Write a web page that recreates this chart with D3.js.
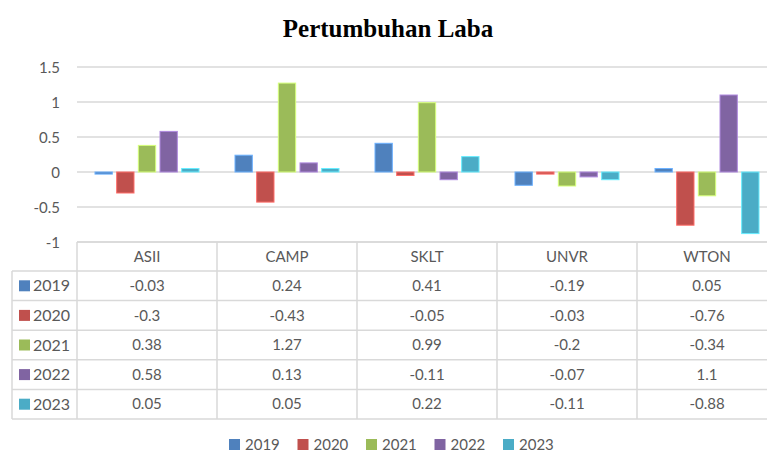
<!DOCTYPE html>
<html><head><meta charset="utf-8">
<script src="https://cdn.jsdelivr.net/npm/d3@7"></script>
<style>body{margin:0;background:#fff;}svg{display:block;}</style>
</head><body>
<svg id="chart" width="767" height="452"></svg>
<script>
const title = "Pertumbuhan Laba";
const categories = ["ASII", "CAMP", "SKLT", "UNVR", "WTON"];
const years = ["2019", "2020", "2021", "2022", "2023"];
const v2019 = [-0.03, 0.24, 0.41, -0.19, 0.05];
const v2020 = [-0.3, -0.43, -0.05, -0.03, -0.76];
const v2021 = [0.38, 1.27, 0.99, -0.2, -0.34];
const v2022 = [0.58, 0.13, -0.11, -0.07, 1.1];
const v2023 = [0.05, 0.05, 0.22, -0.11, -0.88];
const yTicks = [-1, -0.5, 0, 0.5, 1, 1.5];
const colors = ["#4F81BD", "#C0504D", "#9BBB59", "#8064A2", "#4BACC6"];

const seriesValues = [v2019, v2020, v2021, v2022, v2023];
const series = years.map((y, i) => ({year: y, values: seriesValues[i], color: colors[i]}));

const svg = d3.select("#chart");
const textColor = "#595959";
const gridColor = "#d9d9d9";
const font = "Lato, 'Open Sans', sans-serif";

const x0 = d3.scaleBand().domain(categories).range([77, 777]).padding(0);
const x1 = d3.scaleBand().domain(years).range([18, 122]).paddingInner(0.2).paddingOuter(0);
const y = d3.scaleLinear().domain([-1, 1.5]).range([242, 67]);

// title
svg.append("text").attr("x", 388).attr("y", 37).attr("text-anchor", "middle")
  .attr("font-family", "'Liberation Serif', 'Times New Roman', serif")
  .attr("font-weight", "bold").attr("font-size", 25).attr("fill", "#000").text(title);

// gridlines
svg.append("g").selectAll("line").data(yTicks).join("line")
  .attr("x1", 77).attr("x2", 767)
  .attr("y1", d => y(d)).attr("y2", d => y(d))
  .attr("stroke", gridColor).attr("stroke-width", 1.5);

// y axis labels
const yAxis = d3.axisLeft(y).tickValues(yTicks).tickSize(0).tickPadding(0).tickFormat(d => String(d));
const ga = svg.append("g").attr("transform", "translate(60,0)").call(yAxis);
ga.select(".domain").remove();
ga.selectAll("text").attr("font-family", font).attr("font-size", 15).attr("fill", textColor).attr("dy", "0.35em");

// bars
const groups = svg.append("g").selectAll("g").data(series).join("g");
groups.selectAll("rect").data(s => s.values.map((v, i) => ({cat: categories[i], v, year: s.year, color: s.color})))
  .join("rect")
  .attr("x", d => x0(d.cat) + x1(d.year))
  .attr("width", x1.bandwidth())
  .attr("y", d => Math.min(y(d.v), y(0)))
  .attr("height", d => Math.abs(y(d.v) - y(0)))
  .attr("fill", d => d.color)
  .attr("stroke", d => d3.color(d.color).brighter(0.9))
  .attr("stroke-width", 1);

// table
const rowTop = 242, headerH = 29, rowH = 29.6;
const rowY = i => rowTop + headerH + i * rowH;
const tbl = svg.append("g");
const lineAttr = sel => sel.attr("stroke", gridColor).attr("stroke-width", 1.5).attr("fill", "none");
tbl.append("line").attr("x1", 77).attr("x2", 767).attr("y1", rowTop).attr("y2", rowTop).call(lineAttr);
d3.range(years.length + 1).forEach(i => {
  tbl.append("line").attr("x1", 12).attr("x2", 767).attr("y1", rowY(i)).attr("y2", rowY(i)).call(lineAttr);
});
tbl.append("line").attr("x1", 12).attr("x2", 12).attr("y1", rowY(0)).attr("y2", rowY(years.length)).call(lineAttr);
categories.forEach(c => {
  tbl.append("line").attr("x1", x0(c)).attr("x2", x0(c)).attr("y1", rowTop).attr("y2", rowY(years.length)).call(lineAttr);
});
tbl.selectAll("text.hdr").data(categories).join("text").attr("class", "hdr")
  .attr("x", d => x0(d) + x0.bandwidth() / 2).attr("y", rowTop + headerH / 2).attr("dy", "0.35em")
  .attr("text-anchor", "middle").attr("font-family", font).attr("font-size", 15).attr("fill", textColor).text(d => d);
series.forEach((s, i) => {
  const cy = rowY(i) + rowH / 2;
  tbl.append("rect").attr("x", 19).attr("y", cy - 5.5).attr("width", 11).attr("height", 11).attr("fill", s.color);
  tbl.append("text").attr("x", 33).attr("y", cy).attr("dy", "0.35em").attr("font-family", font)
    .attr("font-size", 16).attr("fill", textColor).text(s.year);
  s.values.forEach((v, j) => {
    tbl.append("text").attr("x", x0(categories[j]) + x0.bandwidth() / 2).attr("y", cy).attr("dy", "0.35em")
      .attr("text-anchor", "middle").attr("font-family", font).attr("font-size", 15).attr("fill", textColor).text(String(v));
  });
});

// bottom legend
const leg = svg.append("g").selectAll("g").data(series).join("g")
  .attr("transform", (d, i) => `translate(${229 + i * 68.5},0)`);
leg.append("rect").attr("x", 0).attr("y", 439).attr("width", 11).attr("height", 11).attr("fill", d => d.color);
leg.append("text").attr("x", 16).attr("y", 450).attr("font-family", font).attr("font-size", 15)
  .attr("fill", textColor).text(d => d.year);
</script>
</body></html>
